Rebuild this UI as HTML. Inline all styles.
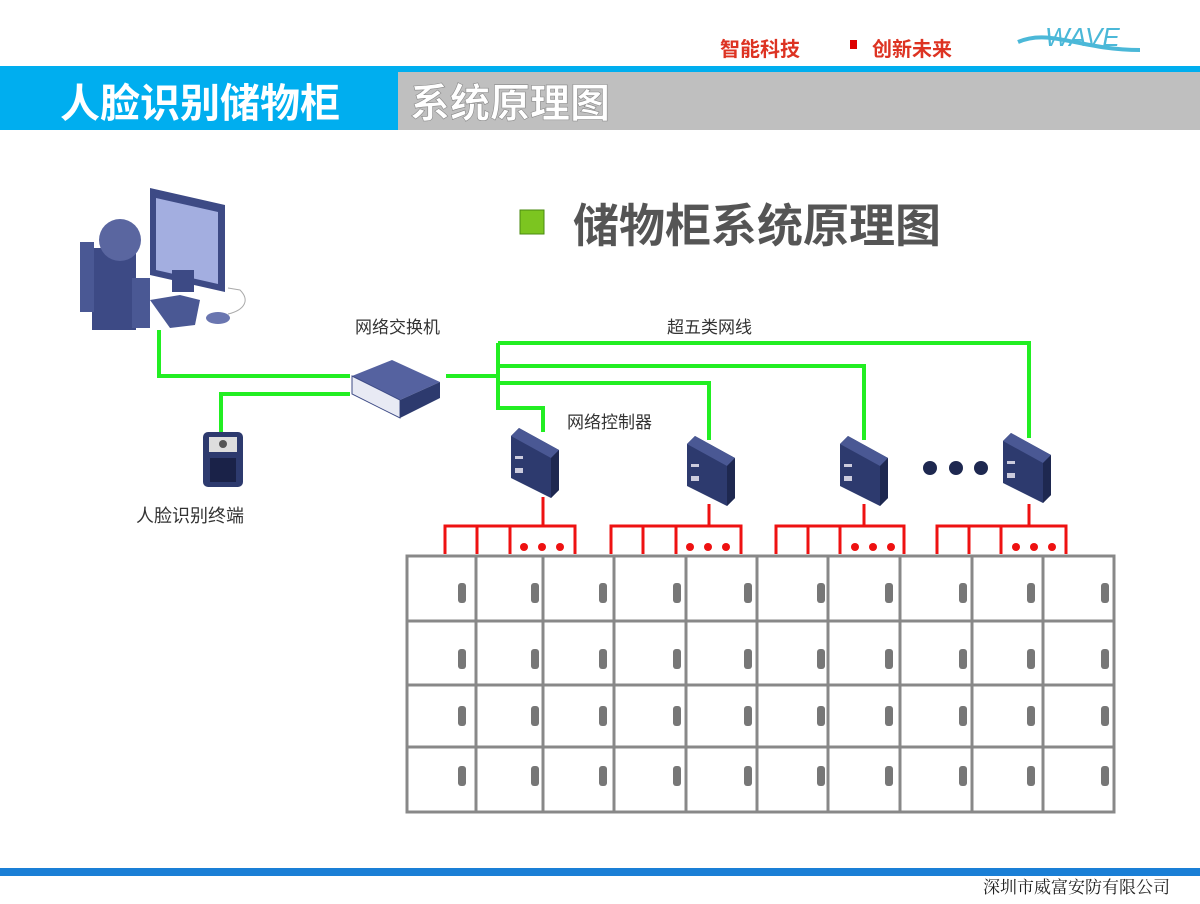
<!DOCTYPE html>
<html><head><meta charset="utf-8"><style>
body{margin:0;width:1200px;height:904px;overflow:hidden;background:#fff;font-family:"Liberation Sans","Noto Sans CJK SC",sans-serif}
svg{display:block}
</style></head><body>
<svg width="1200" height="904" viewBox="0 0 1200 904" xmlns="http://www.w3.org/2000/svg" font-family="Liberation Sans, Noto Sans CJK SC, sans-serif">
<defs>
<rect id="h" x="-4" y="-10" width="8" height="20" rx="3" fill="#777"/>
<g id="ctl">
<polygon points="0,8 8,0 48,22 48,62 40,70 0,50" fill="#2d3a6e"/>
<polygon points="0,8 8,0 48,22 40,30" fill="#4a5894"/>
<polygon points="40,30 48,22 48,62 40,70" fill="#1e2850"/>
<rect x="4" y="28" width="8" height="3" fill="#ccd"/>
<rect x="4" y="40" width="8" height="5" fill="#ccd"/>
</g>
</defs>
<text x="720" y="56" font-size="20" font-weight="bold" fill="#d32" >智能科技</text>
<rect x="850" y="40" width="7" height="9" fill="#d00"/>
<text x="872" y="56" font-size="20" font-weight="bold" fill="#d32">创新未来</text>
<path d="M1018,42 C1050,28 1080,50 1140,50" stroke="#4bb8d8" stroke-width="4" fill="none"/>
<text x="1045" y="46" font-size="26" font-style="italic" fill="#4bb8d8">WAVE</text>
<rect x="0" y="66" width="1200" height="6" fill="#00aeef"/>
<rect x="0" y="72" width="398" height="58" fill="#00aeef"/>
<rect x="398" y="72" width="802" height="58" fill="#bfbfbf"/>
<text x="60" y="117" font-size="40" font-weight="bold" fill="#fff">人脸识别储物柜</text>
<text x="410" y="117" font-size="40" font-weight="bold" fill="#fff" stroke="#888" stroke-width="0.6">系统原理图</text>
<rect x="520" y="210" width="24" height="24" fill="#7cc520" stroke="#4a8a10"/>
<text x="573" y="242" font-size="46" font-weight="bold" fill="#555">储物柜系统原理图</text>
<polygon points="150,188 225,205 225,292 150,275" fill="#3d4a85"/>
<polygon points="156,198 218,212 218,284 156,270" fill="#a3aee0"/>
<rect x="172" y="270" width="22" height="22" fill="#3d4a85"/>
<polygon points="150,300 180,295 200,300 195,325 170,328" fill="#4a5894"/>
<rect x="92" y="248" width="44" height="82" fill="#3d4a85"/>
<rect x="80" y="242" width="14" height="70" fill="#4a5894"/>
<rect x="132" y="278" width="18" height="50" fill="#4a5894"/>
<circle cx="120" cy="240" r="21" fill="#5a66a0"/>
<ellipse cx="218" cy="318" rx="12" ry="6" fill="#6a76b0"/>
<path d="M228,314 C245,310 250,300 240,290 L228,288" stroke="#aaa" fill="none"/>
<g stroke="#22ee22" stroke-width="4" fill="none">
<polyline points="159,330 159,376 350,376"/>
<polyline points="221,432 221,394 350,394"/>
<polyline points="446,376 498,376"/>
<polyline points="498,343 498,408 543,408 543,432"/>
<polyline points="498,343 1029,343 1029,438"/>
<polyline points="498,366 864,366 864,440"/>
<polyline points="498,383 709,383 709,440"/>
</g>
<polygon points="352,376 392,360 440,382 400,400" fill="#5562a0"/>
<polygon points="352,376 400,400 400,418 352,394" fill="#e8eaf4" stroke="#3d4a85"/>
<polygon points="400,400 440,382 440,398 400,418" fill="#2d3a6e"/>
<text x="355" y="333" font-size="17" fill="#333">网络交换机</text>
<rect x="203" y="432" width="40" height="55" rx="5" fill="#2d3a6e"/>
<rect x="209" y="437" width="28" height="15" fill="#ddd"/>
<circle cx="223" cy="444" r="4" fill="#555"/>
<rect x="210" y="458" width="26" height="24" fill="#1a2248"/>
<text x="136" y="522" font-size="18" fill="#333">人脸识别终端</text>
<text x="667" y="333" font-size="17" fill="#333">超五类网线</text>
<text x="567" y="428" font-size="17" fill="#333">网络控制器</text>
<use href="#ctl" x="511" y="428"/>
<use href="#ctl" x="687" y="436"/>
<use href="#ctl" x="840" y="436"/>
<use href="#ctl" x="1003" y="433"/>
<g fill="#1e2850"><circle cx="930" cy="468" r="7"/><circle cx="956" cy="468" r="7"/><circle cx="981" cy="468" r="7"/></g>
<g stroke="#ee1111" stroke-width="3" fill="none">
<path d="M543,497V526M445,554V526H575V554M477,526V554M510,526V554"/>
<path d="M709,504V526M611,554V526H741V554M643,526V554M676,526V554"/>
<path d="M864,504V526M776,554V526H904V554M808,526V554M840,526V554"/>
<path d="M1029,504V526M937,554V526H1066V554M969,526V554M1001,526V554"/>
</g>
<g fill="#ee1111">
<circle cx="524" cy="547" r="4"/><circle cx="542" cy="547" r="4"/><circle cx="560" cy="547" r="4"/>
<circle cx="690" cy="547" r="4"/><circle cx="708" cy="547" r="4"/><circle cx="726" cy="547" r="4"/>
<circle cx="855" cy="547" r="4"/><circle cx="873" cy="547" r="4"/><circle cx="891" cy="547" r="4"/>
<circle cx="1016" cy="547" r="4"/><circle cx="1034" cy="547" r="4"/><circle cx="1052" cy="547" r="4"/>
</g>
<g stroke="#888" stroke-width="3" fill="none">
<rect x="407" y="556" width="707" height="256"/>
<path d="M407,621H1114M407,685H1114M407,747H1114"/>
<path d="M476,556V812M543,556V812M614,556V812M686,556V812M757,556V812M828,556V812M900,556V812M972,556V812M1043,556V812"/>
</g>
<g id="row">
<use href="#h" x="462" y="593"/><use href="#h" x="535" y="593"/><use href="#h" x="603" y="593"/><use href="#h" x="677" y="593"/><use href="#h" x="748" y="593"/><use href="#h" x="821" y="593"/><use href="#h" x="889" y="593"/><use href="#h" x="963" y="593"/><use href="#h" x="1031" y="593"/><use href="#h" x="1105" y="593"/>
</g>
<use href="#row" y="66"/><use href="#row" y="123"/><use href="#row" y="183"/>
<rect x="0" y="868" width="1200" height="8" fill="#1a7fd6"/>
<text x="1170" y="893" font-size="17" fill="#222" text-anchor="end" font-family="Noto Serif CJK SC, serif">深圳市威富安防有限公司</text>
</svg>
</body></html>
